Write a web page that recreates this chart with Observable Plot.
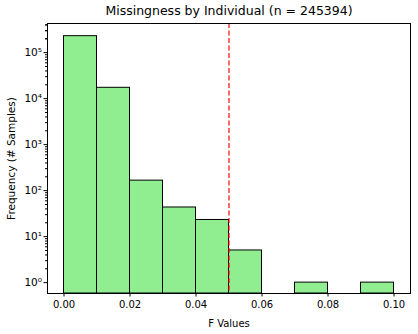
<!DOCTYPE html>
<html>
<head>
<meta charset="utf-8">
<script src="https://cdn.jsdelivr.net/npm/d3@7"></script>
<script src="https://cdn.jsdelivr.net/npm/@observablehq/plot@0.6"></script>
<style>
  body { margin: 0; background: #fff; font-family: "DejaVu Sans", sans-serif; }
  #title { height: 18px; width: 418px; position: relative; }
  #title span { position: absolute; left: 229px; top: 3px; transform: translateX(-50%); font-size: 12.5px; white-space: nowrap; color: #000; }
</style>
</head>
<body>
<div id="title"><span>Missingness by Individual (n = 245394)</span></div>
<div id="chart"></div>
<script>
const binStart = [0.00, 0.01, 0.02, 0.03, 0.04, 0.05, 0.06, 0.07, 0.08, 0.09];
const binWidth = 0.01;
const counts   = [227956, 17200, 165, 43, 23, 5, 0, 1, 0, 1];
const threshold = 0.05;
const xTicks = [0.00, 0.02, 0.04, 0.06, 0.08, 0.10];
const yMajor = [1, 10, 100, 1000, 10000, 100000];
const yLabels = ["10⁰", "10¹", "10²", "10³", "10⁴", "10⁵"];
const yMinor = yMajor.flatMap(p => [2,3,4,5,6,7,8,9].map(m => m * p)).concat([2e5, 3e5, 4e5]);

const yMin = 0.58, yMax = 4.3e5;
const bins = binStart.map((s, i) => ({x1: s, x2: s + binWidth, count: counts[i]})).filter(d => d.count > 0);

const chart = Plot.plot({
  width: 418,
  height: 316,
  marginLeft: 47,
  marginRight: 8,
  marginTop: 5,
  marginBottom: 41,
  style: {fontFamily: "DejaVu Sans, sans-serif", fontSize: "10px", color: "#000"},
  x: {domain: [-0.005, 0.105]},
  y: {type: "log", domain: [yMin, yMax]},
  marks: [
    Plot.rect(bins, {x1: "x1", x2: "x2", y1: yMin, y2: "count", fill: "#90EE90", stroke: "#000", strokeWidth: 1}),
    Plot.ruleX([threshold], {stroke: "red", strokeWidth: 1.3, strokeDasharray: "5,2.5", strokeOpacity: 0.9}),
    Plot.frame({stroke: "#000", strokeWidth: 1}),
    Plot.axisX({ticks: xTicks, tickFormat: d3.format(".2f"), tickSize: 3.5, tickPadding: 4, label: "F Values", labelAnchor: "center", labelArrow: "none", labelOffset: 33, fontSize: 10}),
    Plot.axisY({ticks: yMajor, tickFormat: (d) => yLabels[yMajor.indexOf(d)], tickSize: 3.5, tickPadding: 2, label: "Frequency (# Samples)", labelAnchor: "center", labelArrow: "none", labelOffset: 40, fontSize: 10.5}),
    Plot.axisY({ticks: yMinor.filter(v => v > yMin && v < yMax), tickFormat: () => "", tickSize: 2, label: null})
  ]
});
document.getElementById("chart").append(chart);
</script>
</body>
</html>
